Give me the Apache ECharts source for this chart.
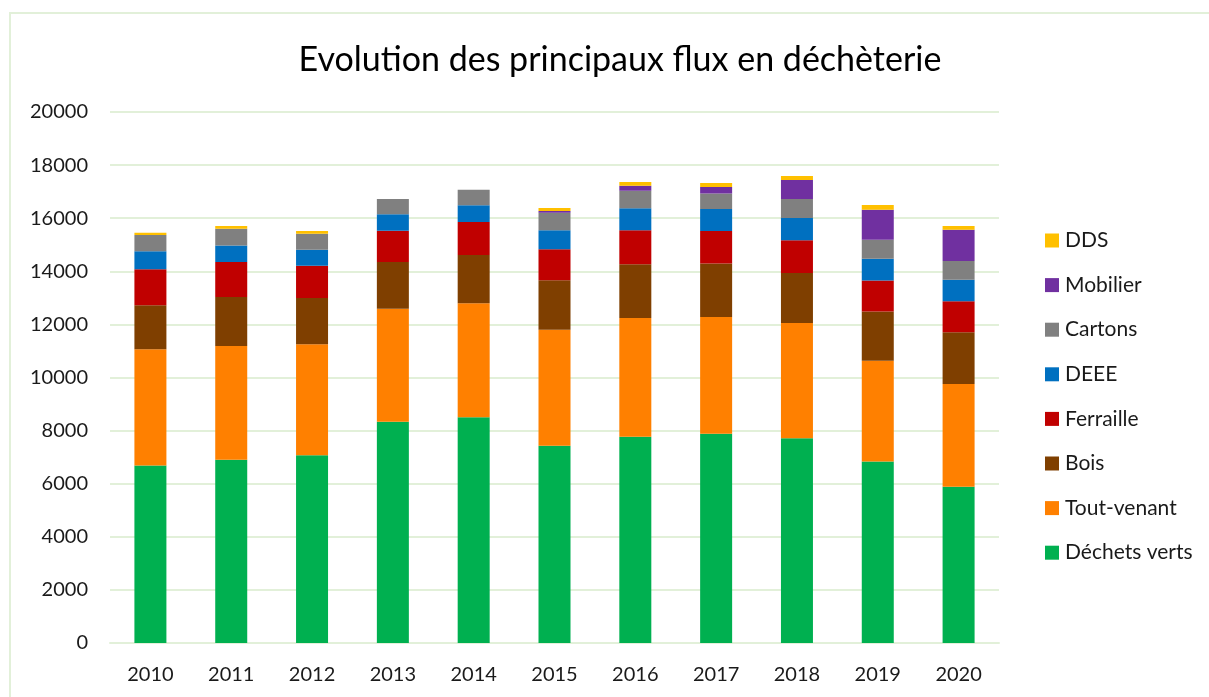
<!DOCTYPE html>
<html>
<head>
<meta charset="utf-8">
<script src="https://cdn.jsdelivr.net/npm/echarts@6/dist/echarts.min.js"></script>
<style>
    html, body { margin: 0; padding: 0; background: #ffffff; }
    #chart { width: 1209px; height: 697px; }
</style>
</head>
<body>
<div id="chart"></div>
<script>
    const years = ['2010', '2011', '2012', '2013', '2014', '2015', '2016', '2017', '2018', '2019', '2020'];

    const dechetsVerts = [6690, 6900, 7070, 8335, 8500, 7430, 7770, 7880, 7710, 6840, 5885];
    const toutVenant = [4370, 4282, 4180, 4256, 4294, 4369, 4471, 4396, 4343, 3789, 3870];
    const bois = [1657, 1846, 1744, 1759, 1819, 1861, 2023, 2022, 1883, 1860, 1948];
    const ferraille = [1356, 1318, 1217, 1179, 1243, 1168, 1280, 1217, 1232, 1168, 1167];
    const deee = [678, 629, 603, 618, 629, 715, 829, 828, 840, 814, 814];
    const cartons = [614, 626, 602, 576, 587, 663, 663, 592, 715, 715, 704];
    const mobilier = [0, 0, 0, 0, 0, 64, 188, 237, 716, 1130, 1179];
    const dds = [87, 101, 102, 0, 0, 113, 139, 151, 150, 177, 139];

    const yTicks = [0, 2000, 4000, 6000, 8000, 10000, 12000, 14000, 16000, 18000, 20000];

    const seriesDefs = [
        {name: 'Déchets verts', data: dechetsVerts, color: '#00B050'},
        {name: 'Tout-venant', data: toutVenant, color: '#FF8000'},
        {name: 'Bois', data: bois, color: '#7F3F00'},
        {name: 'Ferraille', data: ferraille, color: '#C00000'},
        {name: 'DEEE', data: deee, color: '#0070C0'},
        {name: 'Cartons', data: cartons, color: '#808080'},
        {name: 'Mobilier', data: mobilier, color: '#7030A0'},
        {name: 'DDS', data: dds, color: '#FFC000'}
    ];

    const font = 'Lato, "Open Sans", sans-serif';
    const chart = echarts.init(document.getElementById('chart'));
    chart.setOption({
        animation: false,
        backgroundColor: '#ffffff',
        textStyle: {fontFamily: font},
        graphic: [{
            type: 'rect',
            shape: {x: 10, y: 13, width: 1220, height: 700},
            style: {fill: 'none', stroke: '#E2F0D9', lineWidth: 2},
            silent: true
        }],
        title: {
            text: 'Evolution des principaux flux en déchèterie',
            left: 615,
            textAlign: 'center',
            top: 38,
            textStyle: {fontFamily: font, fontSize: 34, fontWeight: 'normal', color: '#000000'}
        },
        legend: {
            orient: 'vertical',
            left: 1040,
            top: 225,
            itemWidth: 14,
            itemHeight: 14,
            itemGap: 23.6,
            icon: 'rect',
            data: seriesDefs.map(s => s.name).reverse(),
            textStyle: {fontFamily: font, fontSize: 21, lineHeight: 21, color: '#1a1a1a', padding: [0, 0, 0, 1]}
        },
        grid: {left: 110, right: 210, top: 112, bottom: 54, containLabel: false},
        xAxis: {
            type: 'category',
            data: years,
            axisLine: {lineStyle: {color: '#E2F0D9', width: 2}},
            axisTick: {show: false},
            axisLabel: {fontFamily: font, fontSize: 20, color: '#1a1a1a', margin: 22}
        },
        yAxis: {
            type: 'value',
            min: yTicks[0],
            max: yTicks[yTicks.length - 1],
            interval: 2000,
            axisLine: {show: false},
            axisTick: {show: false},
            splitLine: {lineStyle: {color: '#E2F0D9', width: 2}},
            axisLabel: {fontFamily: font, fontSize: 20, color: '#1a1a1a', margin: 22, formatter: v => String(v)}
        },
        series: seriesDefs.map(s => ({
            name: s.name,
            type: 'bar',
            stack: 'total',
            barWidth: 32,
            data: s.data,
            itemStyle: {color: s.color}
        }))
    });
</script>
</body>
</html>
